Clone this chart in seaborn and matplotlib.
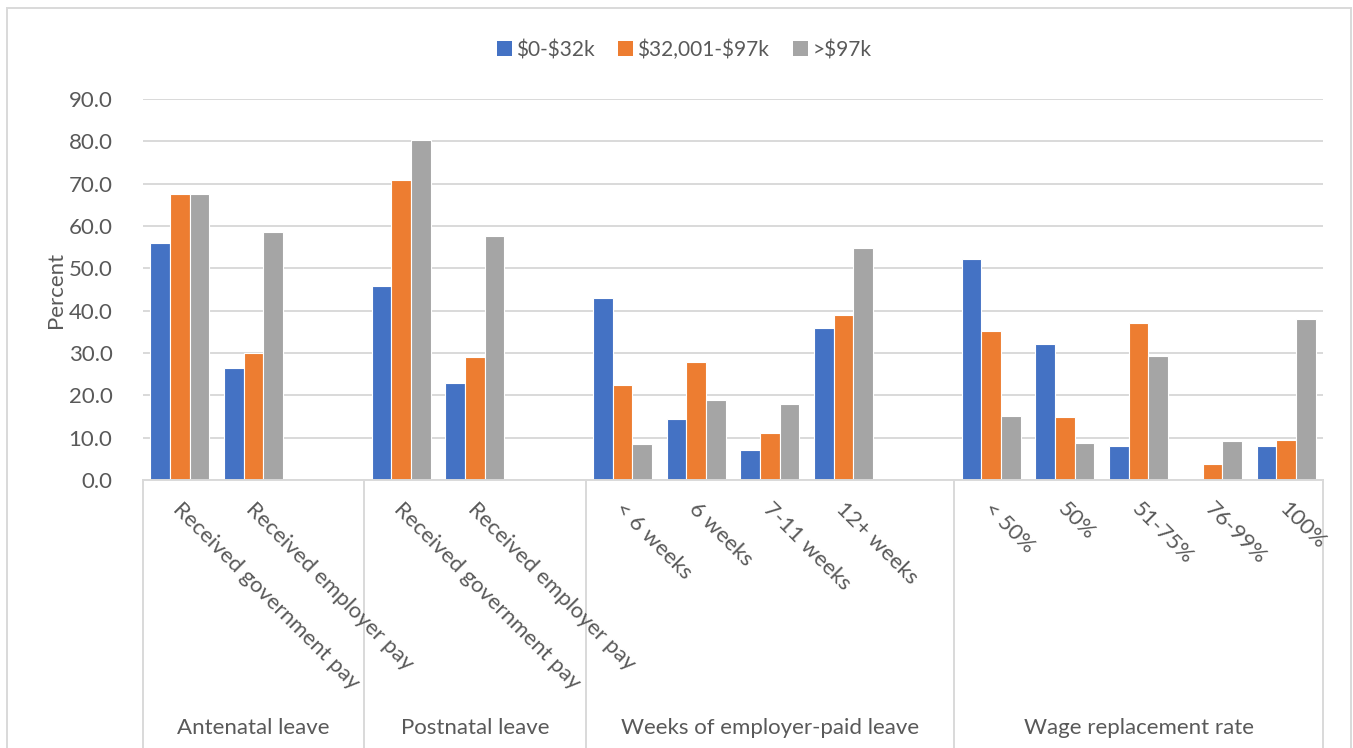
import numpy as np
import pandas as pd
import matplotlib
matplotlib.use("Agg")
import matplotlib.pyplot as plt
import matplotlib.transforms as mtransforms
from matplotlib.patches import Rectangle, Patch
import seaborn as sns

# ---------------- data ----------------
groups = ["Antenatal leave", "Postnatal leave", "Weeks of employer-paid leave", "Wage replacement rate"]
group_sizes = [3, 3, 5, 5]
categories = ["Received government pay", "Received employer pay", "",
              "Received government pay", "Received employer pay", "",
              "< 6 weeks", "6 weeks", "7-11 weeks", "12+ weeks", "",
              "< 50%", "50%", "51-75%", "76-99%", "100%"]
series = ["$0-$32k", "$32,001-$97k", ">$97k"]
low = [56.0, 26.5, np.nan, 45.9, 23.0, np.nan, 43.0, 14.3, 7.2, 35.9, np.nan, 52.1, 32.1, 8.0, 0.0, 8.0]
mid = [67.6, 30.1, np.nan, 70.9, 29.0, np.nan, 22.4, 27.9, 11.2, 39.0, np.nan, 35.3, 15.0, 37.2, 3.8, 9.4]
high = [67.6, 58.7, np.nan, 80.2, 57.6, np.nan, 8.5, 19.0, 18.0, 54.8, np.nan, 15.1, 8.7, 29.3, 9.3, 38.0]
yticks = [0, 10, 20, 30, 40, 50, 60, 70, 80, 90]
colors = ["#4472C4", "#ED7D31", "#A5A5A5"]

# ---------------- layout ----------------
W, H = 1353, 748
sns.set_theme(style="white")
plt.rcParams["font.family"] = ["Lato", "DejaVu Sans"]
txt = "#595959"
grid = "#D9D9D9"
fs = 16

fig = plt.figure(figsize=(W / 100, H / 100), dpi=100)
fig.patch.set_facecolor("white")
x0, x1, ytop, ybot = 143, 1323, 99, 480
ax = fig.add_axes([x0 / W, 1 - ybot / H, (x1 - x0) / W, (ybot - ytop) / H])

slot_ids = [f"s{i}" for i in range(len(categories))]
rows = []
for s_name, vals in zip(series, [low, mid, high]):
    for sid, v in zip(slot_ids, vals):
        rows.append({"slot": sid, "series": s_name, "value": v})
df = pd.DataFrame(rows).dropna()

sns.barplot(data=df, x="slot", y="value", hue="series", order=slot_ids,
            hue_order=series, palette=colors, width=0.8, ax=ax, saturation=1,
            edgecolor="white", linewidth=0.8, legend=False, errorbar=None)

ax.set_xlim(-0.5, len(categories) - 0.5)
ax.set_ylim(0, 90)
ax.set_yticks(yticks)
ax.set_yticklabels([f"{v:.1f}" for v in yticks], fontsize=fs, color=txt)
ax.tick_params(axis="y", length=0, pad=22)
ax.set_xticks([])
ax.set_xlabel("")
ax.set_ylabel("")
ax.yaxis.grid(True, color=grid, linewidth=1.4)
ax.set_axisbelow(True)
for sp in ["top", "right", "left"]:
    ax.spines[sp].set_visible(False)
ax.spines["bottom"].set_color(grid)
ax.spines["bottom"].set_linewidth(1.4)

fig.text(56 / W, 1 - 290 / H, "Percent", rotation=90, ha="center", va="center",
         fontsize=fs, color=txt)

trans = mtransforms.blended_transform_factory(ax.transData, ax.transAxes)
px = 1.0 / (ybot - ytop)  # one pixel in axes-y units
slot_px = (x1 - x0) / len(categories)

# category labels (rotated)
for i, lab in enumerate(categories):
    if lab:
        ax.text(i + 3 / slot_px, -(499 - ybot) * px, lab, rotation=-45,
                rotation_mode="anchor", ha="left", va="top", fontsize=fs,
                color=txt, transform=trans, clip_on=False)

# group separators and labels
bounds = np.concatenate([[0], np.cumsum(group_sizes)]) - 0.5
for b in bounds:
    ax.plot([b, b], [0, -(760 - ybot) * px], color=grid, linewidth=1.4,
            transform=trans, clip_on=False)
for g, a, b in zip(groups, bounds[:-1], bounds[1:]):
    ax.text((a + b) / 2, -(728 - ybot) * px, g, ha="center", va="center",
            fontsize=fs, color=txt, transform=trans, clip_on=False)

# legend
handles = [Patch(facecolor=c, edgecolor="none") for c in colors]
labels = [s.replace("$", r"\$") for s in series]
fig.legend(handles, labels, loc="center", bbox_to_anchor=(684 / W, 1 - 50 / H),
           ncol=3, frameon=False, fontsize=15, labelcolor=txt,
           handlelength=0.72, handleheight=0.72, handletextpad=0.2,
           columnspacing=1.15)

# chart area border
fig.add_artist(Rectangle((7 / W, -0.05), (1351 - 7) / W, 1 - 8 / H + 0.05,
                         transform=fig.transFigure, fill=False,
                         edgecolor=grid, linewidth=1.4))

fig.savefig("out.png", dpi=100, facecolor="white")
